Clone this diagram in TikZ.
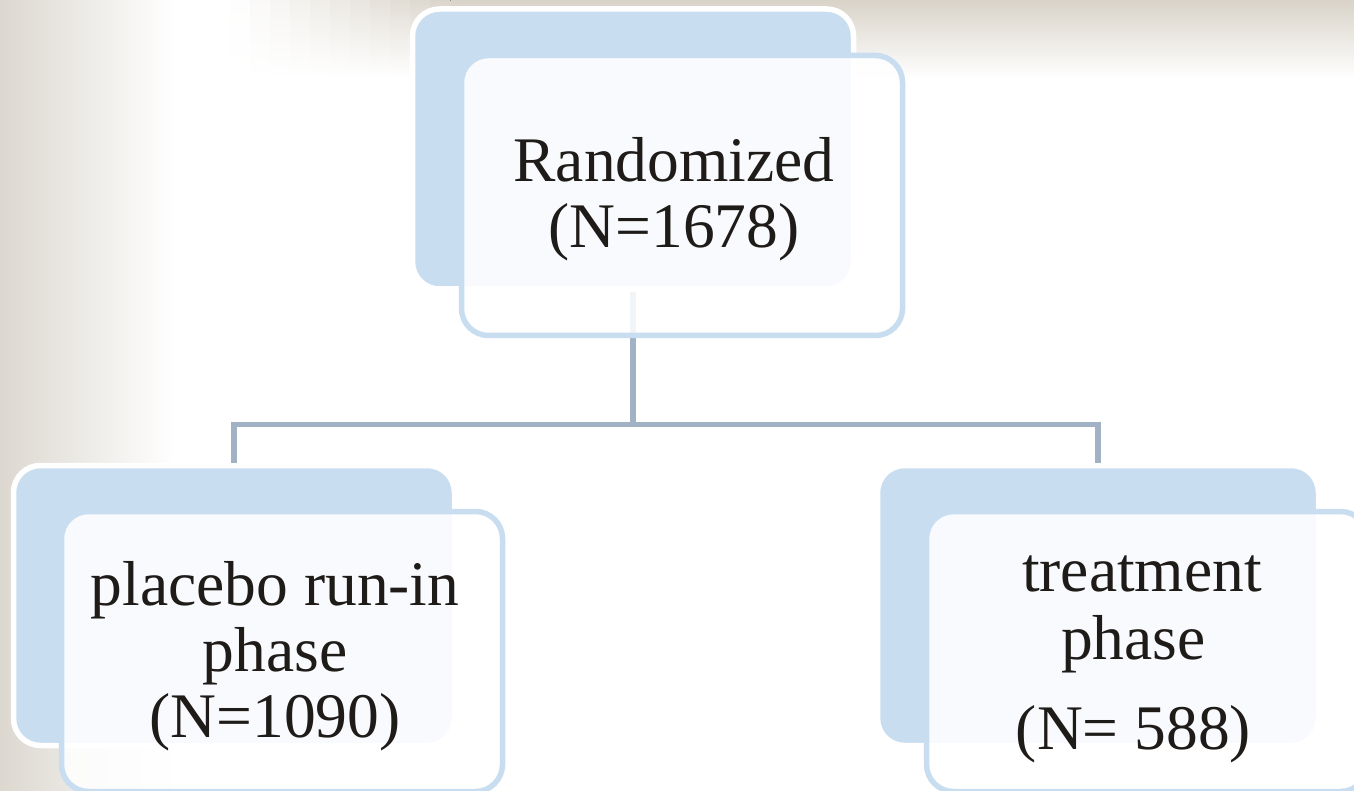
\documentclass[tikz,border=0pt]{standalone}
\usepackage{fontspec}
\setmainfont{Liberation Serif}
\definecolor{boxblue}{HTML}{C9DDF0}
\definecolor{linegray}{HTML}{A2B2C5}
\definecolor{beige}{HTML}{D9D3C8}
\definecolor{beigeleft}{HTML}{DCD8D0}
\definecolor{txt}{HTML}{1F1B18}
\begin{document}
\begin{tikzpicture}[x=1pt,y=-1pt,
  backbox/.style={draw=white, line width=5.5pt, fill=boxblue, rounded corners=27pt,
    minimum width=441pt, minimum height=280pt, inner sep=0pt},
  frontbox/.style={draw=boxblue, line width=5.5pt, fill=white, fill opacity=0.87,
    rounded corners=27pt, minimum width=441pt, minimum height=280pt, inner sep=0pt},
  conn/.style={draw=linegray, line width=5.5pt, line join=miter},
  label/.style={text=txt, font=\fontsize{63.5}{66}\selectfont, inner sep=0pt, anchor=base}]
\useasboundingbox (0,0) rectangle (1354,791);
\clip (0,0) rectangle (1354,791);
% background
\fill[white] (0,0) rectangle (1354,791);
\fill[left color=beigeleft, right color=white] (0,0) rectangle (175,791);
\fill[top color=beige, bottom color=white] (450,0) rectangle (1354,78);
\foreach \k in {0,...,10}{
  \pgfmathtruncatemacro{\p}{4+\k*9}
  \fill[top color=beige!\p!white, bottom color=white]
    (230+20*\k,0) rectangle (250.5+20*\k,78);
}
% back boxes
\node[backbox] (tback) at (633,149) {};
\node[backbox] (lback) at (234,605.5) {};
\node[backbox] (rback) at (1098,605.5) {};
% connectors
\coordinate (split) at (633,424.5);
\draw[conn] (tback.south) -- (split);
\draw[conn] (lback.north) |- (split) -| (rback.north);
% front boxes
\node[frontbox] (tfront) at (682,195.5) {};
\node[frontbox] (lfront) at (282,651.5) {};
\node[frontbox] (rfront) at (1147,651.5) {};
% texts
\node[label] (ttext) at (674,182) {\begin{tabular}[t]{@{}c@{}}Randomized\\(N=1678)\end{tabular}};
\node[label] (ltext) at (275,605.7) {\begin{tabular}[t]{@{}c@{}}placebo run-in\\phase\\(N=1090)\end{tabular}};
\node[label] (rtext) at (1133.5,591.7) {\begin{tabular}[t]{@{}c@{}}\hspace*{17pt}treatment\\[2pt]phase\\[24pt](N= 588)\end{tabular}};
\end{tikzpicture}
\end{document}
